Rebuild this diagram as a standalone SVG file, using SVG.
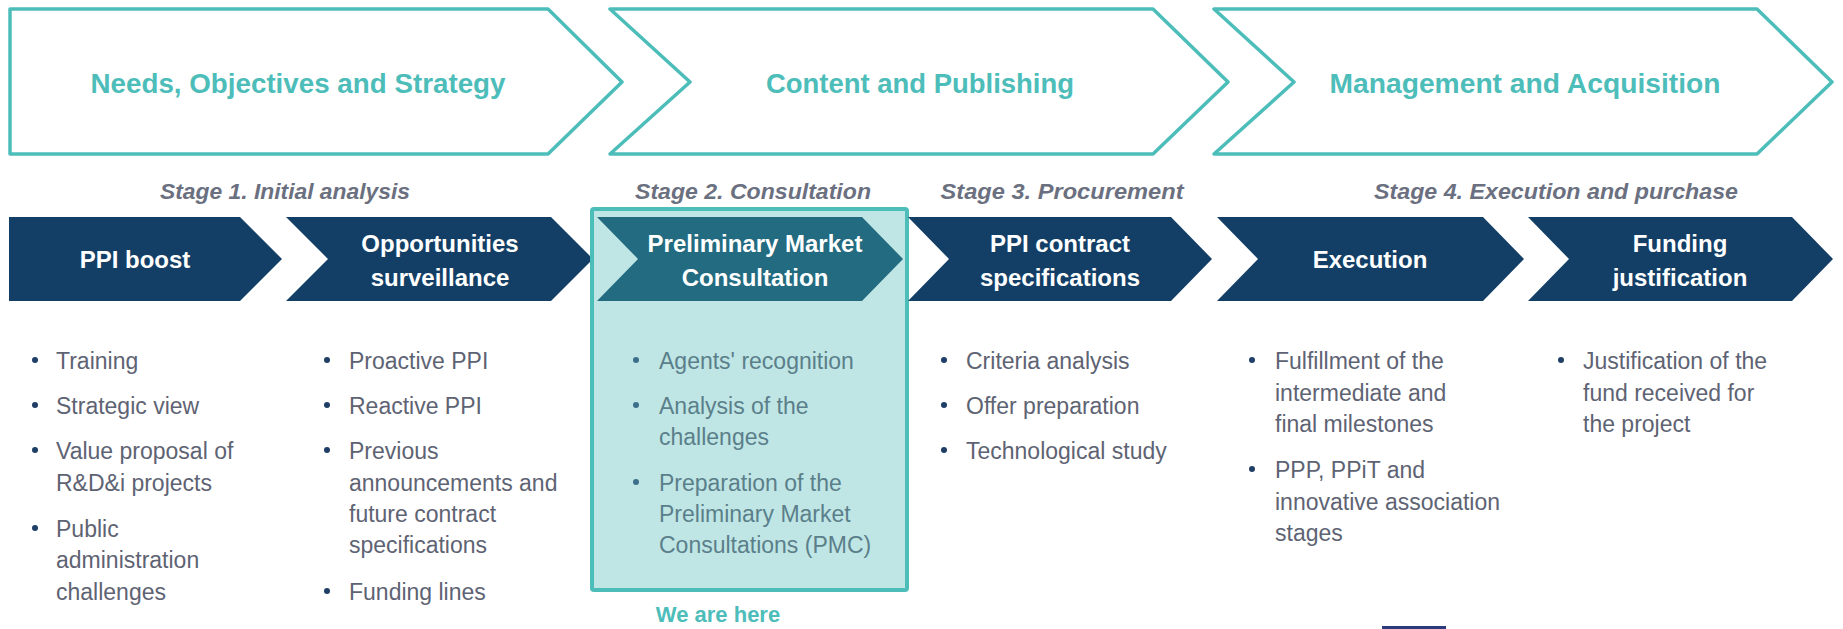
<svg xmlns="http://www.w3.org/2000/svg" width="1843" height="629" viewBox="0 0 1843 629">
  <style>
    .phase { fill: #ffffff; stroke: #4DBDBA; stroke-width: 3.5; stroke-linejoin: round; }
    .phase-label { font-family: "Liberation Sans", Arial, sans-serif; font-weight: bold; font-size: 28px; fill: #4DBDBA; text-anchor: middle; }
    .stage-label { font-family: "Liberation Sans", Arial, sans-serif; font-weight: bold; font-style: italic; font-size: 22px; fill: #6B7080; text-anchor: middle; }
    .step { fill: #133F66; }
    .step-current { fill: #236B80; }
    .step-label { font-family: "Liberation Sans", Arial, sans-serif; font-weight: bold; font-size: 24px; fill: #ffffff; text-anchor: middle; }
    .item { font-family: "Liberation Sans", Arial, sans-serif; font-size: 23px; fill: #5E6373; }
    .item-current { font-family: "Liberation Sans", Arial, sans-serif; font-size: 23px; fill: #5B7F8A; }
    .dot { fill: #1F3E66; }
    .dot-current { fill: #3B6F8A; }
    .highlight { fill: #BFE6E5; stroke: #4DBDBA; stroke-width: 4; }
    .here { font-family: "Liberation Sans", Arial, sans-serif; font-weight: bold; font-size: 22px; fill: #4DBDBA; text-anchor: middle; }
  </style>

  <!-- Phase banners -->
  <g id="phase-needs">
    <polygon class="phase" points="10,9 548,9 622,82 548,154 10,154"/>
    <text class="phase-label" x="298" y="93" textLength="415" lengthAdjust="spacingAndGlyphs">Needs, Objectives and Strategy</text>
  </g>
  <g id="phase-content">
    <polygon class="phase" points="610,9 1153,9 1228,82 1153,154 610,154 690,82"/>
    <text class="phase-label" x="920" y="93" textLength="308" lengthAdjust="spacingAndGlyphs">Content and Publishing</text>
  </g>
  <g id="phase-management">
    <polygon class="phase" points="1214,9 1757,9 1832,82 1757,154 1214,154 1294,82"/>
    <text class="phase-label" x="1525" y="93" textLength="391" lengthAdjust="spacingAndGlyphs">Management and Acquisition</text>
  </g>

  <!-- Stage captions -->
  <g id="stage-labels">
    <text class="stage-label" x="285" y="199" textLength="250" lengthAdjust="spacingAndGlyphs">Stage 1. Initial analysis</text>
    <text class="stage-label" x="753" y="199" textLength="236" lengthAdjust="spacingAndGlyphs">Stage 2. Consultation</text>
    <text class="stage-label" x="1062" y="199" textLength="243" lengthAdjust="spacingAndGlyphs">Stage 3. Procurement</text>
    <text class="stage-label" x="1556" y="199" textLength="364" lengthAdjust="spacingAndGlyphs">Stage 4. Execution and purchase</text>
  </g>

  <!-- Step 1 -->
  <g id="step-ppi-boost">
    <polygon class="step" points="9,217 240,217 282,259 240,301 9,301"/>
    <text class="step-label" x="135" y="268">PPI boost</text>
    <circle class="dot" cx="35" cy="360" r="3"/>
    <text class="item" x="56" y="369">Training</text>
    <circle class="dot" cx="35" cy="405" r="3"/>
    <text class="item" x="56" y="414">Strategic view</text>
    <circle class="dot" cx="35" cy="450" r="3"/>
    <text class="item" x="56" y="459">Value proposal of</text>
    <text class="item" x="56" y="491">R&amp;D&amp;i projects</text>
    <circle class="dot" cx="35" cy="528" r="3"/>
    <text class="item" x="56" y="537">Public</text>
    <text class="item" x="56" y="568">administration</text>
    <text class="item" x="56" y="600">challenges</text>
  </g>

  <!-- Step 2 -->
  <g id="step-surveillance">
    <polygon class="step" points="286,217 551,217 593,259 551,301 286,301 328,259"/>
    <text class="step-label" x="440" y="252">Opportunities</text>
    <text class="step-label" x="440" y="286">surveillance</text>
    <circle class="dot" cx="327" cy="360" r="3"/>
    <text class="item" x="349" y="369">Proactive PPI</text>
    <circle class="dot" cx="327" cy="405" r="3"/>
    <text class="item" x="349" y="414">Reactive PPI</text>
    <circle class="dot" cx="327" cy="450" r="3"/>
    <text class="item" x="349" y="459">Previous</text>
    <text class="item" x="349" y="491">announcements and</text>
    <text class="item" x="349" y="522">future contract</text>
    <text class="item" x="349" y="553">specifications</text>
    <circle class="dot" cx="327" cy="591" r="3"/>
    <text class="item" x="349" y="600">Funding lines</text>
  </g>

  <!-- Step 3 (current) -->
  <g id="step-consultation">
    <rect class="highlight" x="592" y="209" width="315" height="381" rx="2"/>
    <polygon class="step-current" points="597,217 862,217 903,259 862,301 597,301 638,259"/>
    <text class="step-label" x="755" y="252">Preliminary Market</text>
    <text class="step-label" x="755" y="286">Consultation</text>
    <circle class="dot-current" cx="636" cy="360" r="3"/>
    <text class="item-current" x="659" y="369">Agents' recognition</text>
    <circle class="dot-current" cx="636" cy="405" r="3"/>
    <text class="item-current" x="659" y="414">Analysis of the</text>
    <text class="item-current" x="659" y="445">challenges</text>
    <circle class="dot-current" cx="636" cy="482" r="3"/>
    <text class="item-current" x="659" y="491">Preparation of the</text>
    <text class="item-current" x="659" y="522">Preliminary Market</text>
    <text class="item-current" x="659" y="553">Consultations (PMC)</text>
    <text class="here" x="718" y="622">We are here</text>
  </g>

  <!-- Step 4 -->
  <g id="step-specifications">
    <polygon class="step" points="908,217 1171,217 1212,259 1171,301 908,301 949,259"/>
    <text class="step-label" x="1060" y="252">PPI contract</text>
    <text class="step-label" x="1060" y="286">specifications</text>
    <circle class="dot" cx="944" cy="360" r="3"/>
    <text class="item" x="966" y="369">Criteria analysis</text>
    <circle class="dot" cx="944" cy="405" r="3"/>
    <text class="item" x="966" y="414">Offer preparation</text>
    <circle class="dot" cx="944" cy="450" r="3"/>
    <text class="item" x="966" y="459">Technological study</text>
  </g>

  <!-- Step 5 -->
  <g id="step-execution">
    <polygon class="step" points="1217,217 1483,217 1524,259 1483,301 1217,301 1258,259"/>
    <text class="step-label" x="1370" y="268">Execution</text>
    <circle class="dot" cx="1252" cy="360" r="3"/>
    <text class="item" x="1275" y="369">Fulfillment of the</text>
    <text class="item" x="1275" y="401">intermediate and</text>
    <text class="item" x="1275" y="432">final milestones</text>
    <circle class="dot" cx="1252" cy="469" r="3"/>
    <text class="item" x="1275" y="478">PPP, PPiT and</text>
    <text class="item" x="1275" y="510">innovative association</text>
    <text class="item" x="1275" y="541">stages</text>
  </g>

  <!-- Step 6 -->
  <g id="step-funding">
    <polygon class="step" points="1528,217 1792,217 1833,259 1792,301 1528,301 1569,259"/>
    <text class="step-label" x="1680" y="252">Funding</text>
    <text class="step-label" x="1680" y="286">justification</text>
    <circle class="dot" cx="1561" cy="360" r="3"/>
    <text class="item" x="1583" y="369">Justification of the</text>
    <text class="item" x="1583" y="401">fund received for</text>
    <text class="item" x="1583" y="432">the project</text>
  </g>

  <!-- Connectors: the chevrons abut directly, so no separate lines are drawn -->
  <g id="connectors"></g>

  <rect id="footer-mark" x="1382" y="626" width="64" height="3" fill="#2B3B7C"/>
</svg>
